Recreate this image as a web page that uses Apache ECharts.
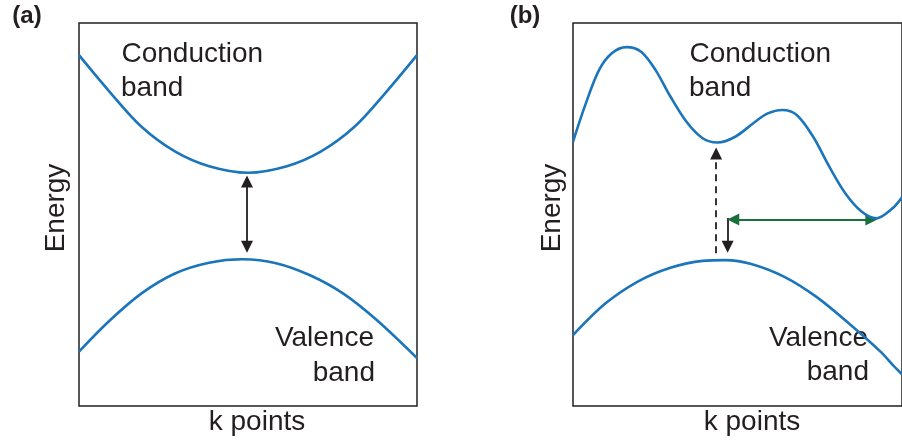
<!DOCTYPE html>
<html>
<head>
<meta charset="utf-8">
<script src="https://cdn.jsdelivr.net/npm/echarts@6/dist/echarts.min.js"></script>
<style>html,body{margin:0;padding:0;background:#fff}#c{width:902px;height:440px}</style>
</head>
<body>
<div id="c"></div>
<script>
// ---- data (k in arbitrary units 0..100, energy in arbitrary units 0..100) ----
// panel (a): direct gap
const kCondA = [0, 9, 18.5, 28.5, 38.5, 50, 61.5, 71.5, 81.5, 91, 100];
const eCondA = [91.6, 82.1, 72.9, 66.4, 62.6, 60.9, 62.6, 66.4, 72.9, 82.1, 91.6];
const kValA  = [0, 8.7, 18.5, 28.4, 38.5, 48.4, 58.3, 68.2, 78.1, 88, 100];
const eValA  = [14.2, 22.0, 29.4, 34.6, 37.4, 38.3, 37.3, 34.2, 29.4, 22.5, 12.5];
// panel (b): indirect gap
const kCondB = [0, 3.9, 7.9, 11.8, 16.3, 20.7, 25.1, 29.6, 34.5, 39.4, 43.9, 49.3, 55.2, 59.2, 63.6, 68.0, 73.0, 77.9, 82.8, 87.8, 92.2, 97.1, 100];
const eCondB = [69.0, 79.0, 87.7, 92.1, 93.7, 92.5, 87.7, 80.8, 74.2, 69.9, 68.8, 70.3, 74.1, 76.4, 77.3, 76.0, 70.3, 62.5, 55.5, 50.7, 49.0, 51.6, 54.5];
const kValB  = [0, 9.9, 19.7, 29.6, 39.4, 46.4, 54.2, 64.1, 74.0, 83.8, 93.7, 97.1, 100];
const eValB  = [18.5, 26.8, 32.5, 36.1, 37.9, 38.1, 37.1, 33.8, 28.5, 21.6, 14.0, 10.8, 8.3];
// transition arrows: [k1, E1, k2, E2]
const gapArrowA   = [49.7, 41.6, 49.7, 58.6];   // double-headed, panel (a)
const dashArrowB  = [43.5, 39.9, 43.5, 65.9];   // dashed, up-head, panel (b)
const downArrowB  = [47.0, 49.1, 47.0, 41.6];   // short down arrow, panel (b)
const greenArrowB = [48.7, 48.7, 90.7, 48.7];   // double-headed green, panel (b)
// texts
const panelLabels = ['(a)', '(b)'];
const xName = 'k points';
const yName = 'Energy';
const condText = ['Conduction', 'band'];
const valText = ['Valence', 'band'];

const pairs = (xs, ys) => xs.map((x, i) => [x, ys[i]]);
const BLUE = '#1b75bb', DARK = '#231f20', GREEN = '#19703a';
const FONT = '"Liberation Sans", Arial, sans-serif';

const chart = echarts.init(document.getElementById('c'), null, {renderer: 'canvas'});

const gridBase = {top: 23, height: 383, width: 338, show: true, borderColor: DARK, borderWidth: 1.5, backgroundColor: 'transparent'};
const axX = i => ({type: 'value', gridIndex: i, min: 0, max: 100, axisLine: {show: false}, axisTick: {show: false}, axisLabel: {show: false}, splitLine: {show: false}});
const axY = i => ({type: 'value', gridIndex: i, min: 0, max: 100, axisLine: {show: false}, axisTick: {show: false}, axisLabel: {show: false}, splitLine: {show: false}});

const band = (i, xs, ys) => ({
  type: 'line', xAxisIndex: i, yAxisIndex: i, data: pairs(xs, ys), smooth: 0.33, showSymbol: false, symbol: 'none',
  lineStyle: {color: BLUE, width: 2.6}, silent: true, animation: false
});
const arrow = (i, a, sym, color, dashed) => ({
  type: 'lines', coordinateSystem: 'cartesian2d', xAxisIndex: i, yAxisIndex: i,
  symbol: sym, symbolSize: 12, silent: true, animation: false,
  lineStyle: {color: color, width: 1.8, opacity: 1, curveness: 0, type: dashed ? [7, 5] : 'solid'},
  itemStyle: {color: color},
  data: [{coords: [[a[0], a[1]], [a[2], a[3]]]}]
});

const txt = (s, x, y, opt) => Object.assign({
  type: 'text', x: x, y: y, silent: true,
  style: Object.assign({text: s, font: '28px ' + FONT, fill: DARK, align: 'left', verticalAlign: 'middle'}, opt || {})
});

chart.setOption({
  animation: false,
  grid: [Object.assign({left: 79}, gridBase), Object.assign({left: 573}, gridBase)],
  xAxis: [axX(0), axX(1)],
  yAxis: [axY(0), axY(1)],
  series: [
    band(0, kCondA, eCondA), band(0, kValA, eValA),
    band(1, kCondB, eCondB), band(1, kValB, eValB),
    arrow(0, gapArrowA, ['triangle', 'triangle'], DARK, false),
    arrow(1, dashArrowB, ['none', 'triangle'], DARK, true),
    arrow(1, downArrowB, ['none', 'triangle'], DARK, false),
    arrow(1, greenArrowB, ['triangle', 'triangle'], GREEN, false)
  ],
  graphic: [
    txt(panelLabels[0], 27, 16, {font: 'bold 24px ' + FONT, align: 'center'}),
    txt(panelLabels[1], 525, 16, {font: 'bold 24px ' + FONT, align: 'center'}),
    txt(condText[0], 121.5, 54),
    txt(condText[1], 121, 88),
    txt(valText[0], 374, 338.5, {align: 'right'}),
    txt(valText[1], 375, 373, {align: 'right'}),
    txt(condText[0], 689.5, 54),
    txt(condText[1], 689, 88),
    txt(valText[0], 868, 338.5, {align: 'right'}),
    txt(valText[1], 869, 372, {align: 'right'}),
    txt(xName, 257, 422, {align: 'center'}),
    txt(xName, 752, 422, {align: 'center'}),
    Object.assign(txt(yName, 56, 208, {align: 'center'}), {rotation: Math.PI / 2}),
    Object.assign(txt(yName, 552, 208, {align: 'center'}), {rotation: Math.PI / 2})
  ]
});
</script>
</body>
</html>
